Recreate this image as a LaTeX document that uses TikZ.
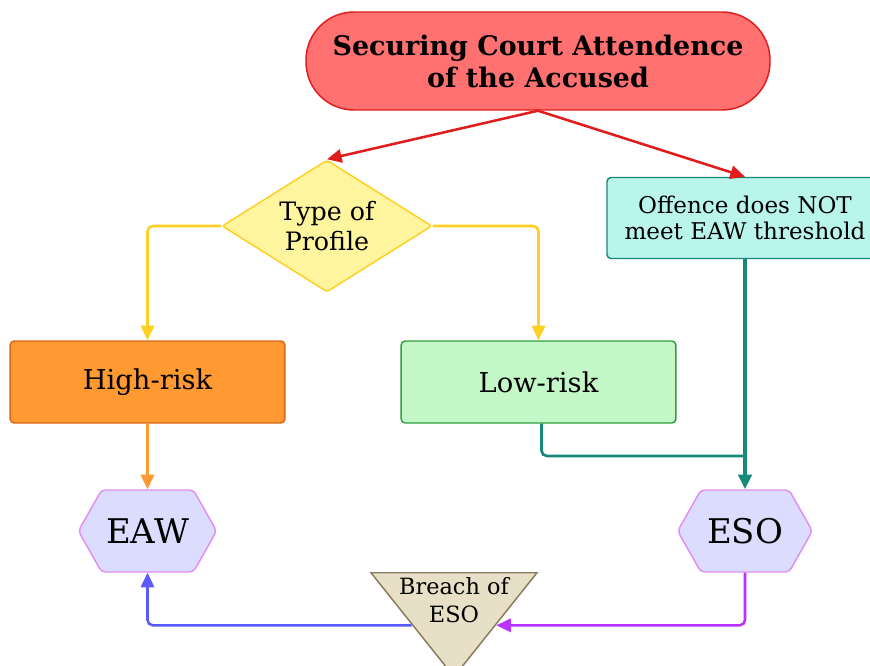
\documentclass[tikz,border=0pt]{standalone}
\usepackage{fontspec}
\setmainfont{DejaVu Serif}
\usetikzlibrary{arrows.meta,shapes.geometric,shapes.symbols}

\definecolor{redline}{HTML}{E01C1C}
\definecolor{redfill}{HTML}{FF7070}
\definecolor{yelline}{HTML}{FFCF22}
\definecolor{yelfill}{HTML}{FFF59E}
\definecolor{tealline}{HTML}{15897A}
\definecolor{tealfill}{HTML}{B9F5EA}
\definecolor{orline}{HTML}{D9661A}
\definecolor{orfill}{HTML}{FF9A33}
\definecolor{orarrow}{HTML}{FF9933}
\definecolor{grline}{HTML}{2E9E3E}
\definecolor{grfill}{HTML}{C4F7C8}
\definecolor{hexline}{HTML}{E08EF5}
\definecolor{hexfill}{HTML}{DCDCFF}
\definecolor{purpline}{HTML}{B833FF}
\definecolor{blueline}{HTML}{5A5AFF}
\definecolor{brline}{HTML}{8A7A5E}
\definecolor{brfill}{HTML}{E8E0C6}

\begin{document}
\begin{tikzpicture}[x=0.75pt,y=-0.75pt,
  startbox/.style={draw=redline,fill=redfill,line width=1.1pt,rounded corners=36pt,
    minimum width=348pt,minimum height=73.5pt,align=center,
    font=\fontsize{20.2}{24}\selectfont\bfseries},
  decision/.style={diamond,aspect=1.59,draw=yelline,fill=yelfill,line width=1.1pt,
    rounded corners=2pt,inner sep=0pt,minimum width=157.5pt,minimum height=99pt,
    align=center,font=\fontsize{19}{22.5}\selectfont},
  box/.style={rectangle,rounded corners=3pt,line width=1.1pt,minimum width=206pt,
    minimum height=61.5pt,align=center},
  hexa/.style={signal,signal to=west and east,signal pointer angle=121,
    draw=hexline,fill=hexfill,line width=1.1pt,rounded corners=3pt,
    minimum width=101pt,minimum height=61.5pt,font=\fontsize{25.5}{28}\selectfont},
  breachtri/.style={isosceles triangle,isosceles triangle stretches,
    shape border rotate=270,draw=brline,fill=brfill,line width=1.1pt,inner sep=0pt,
    minimum width=124.5pt,minimum height=78pt},
  breachtxt/.style={align=center,font=\fontsize{16.8}{21}\selectfont},
  arr/.style={-{Triangle[length=11pt,width=10pt]},line width=1.9pt,rounded corners=4pt}]

  \useasboundingbox (0,0) rectangle (870,666);

  % Nodes
  \node[startbox] (top) at (538,61) {Securing Court Attendence\\of the Accused};
  \node[decision] (prof) at (327,226) {Type of\\Profile};
  \node[box,draw=tealline,fill=tealfill,minimum width=207pt,minimum height=60.75pt,
    font=\fontsize{17.3}{19}\selectfont] (thr) at (745,218) {Offence does NOT\\meet EAW threshold};
  \node[box,draw=orline,fill=orfill,font=\fontsize{20.5}{24}\selectfont] (high) at (147.5,382) {High-risk};
  \node[box,draw=grline,fill=grfill,font=\fontsize{20.5}{24}\selectfont] (low) at (538.5,382) {Low-risk};
  \node[hexa] (eaw) at (147.5,531) {EAW};
  \node[hexa] (eso) at (745,531) {ESO};
  \node[breachtri,anchor=north] (breach) at (454,572) {};
  \node[breachtxt] (breachlab) at (454,600) {Breach of\\ESO};

  % Connectors
  \draw[arr,redline] (top.south) -- (prof.north);
  \draw[arr,redline] (top.south) -- (thr.north);
  \draw[arr,yelline] (prof.west) -| (high.north);
  \draw[arr,yelline] (prof.east) -| (low.north);
  \draw[arr,orarrow] (high.south) -- (eaw.north);
  \draw[arr,tealline,line width=2.6pt] (thr.south) -- (eso.north);
  \coordinate (merge) at (745,456);
  \draw[tealline,line width=2pt,rounded corners=4pt] ([xshift=2.25pt]low.south) |- (merge);
  % rotated triangle: its "left side" faces east
  \draw[arr,purpline] (eso.south) |- (breach.left side);
  \draw[arr,blueline] (breach.right side) -| (eaw.south);
\end{tikzpicture}
\end{document}
